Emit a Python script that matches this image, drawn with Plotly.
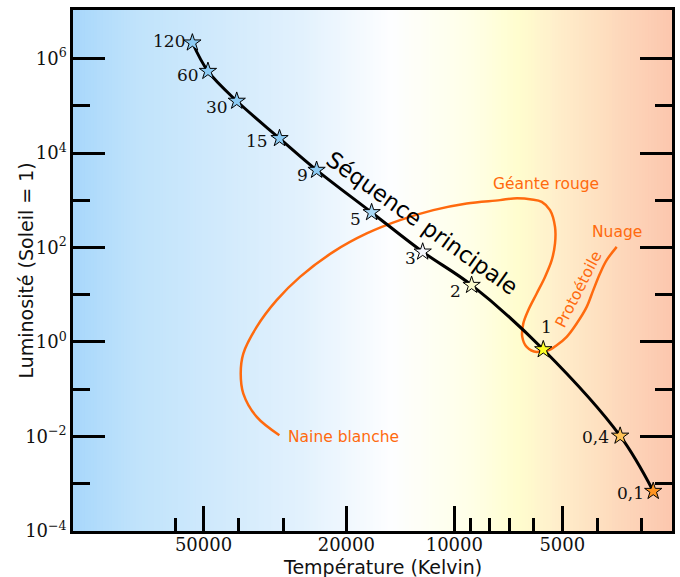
import plotly.graph_objects as go
import numpy as np

# ---------------- data ----------------
mass_labels = ["120", "60", "30", "15", "9", "5", "3", "2", "1", "0,4", "0,1"]
ms_temp = [53700, 48600, 40400, 30700, 24200, 17000, 12250, 8950, 5650, 3450, 2790]
ms_lum = [2.16e6, 5.4e5, 1.26e5, 2.04e4, 4340, 551, 80.7, 15.9, 0.69, 0.0102, 6.9e-4]
star_colors = ["#8ccbf4", "#8ccbf4", "#8ccbf4", "#8ccbf4", "#8ccbf4", "#a9d8f6",
               "#f4f6fc", "#fbfbcc", "#ffff26", "#ffc458", "#ff9422"]

proto_temp = [3527, 3762, 3926, 4099, 4276, 4560, 4861, 5183, 5470, 5650]
proto_lum = [103, 53.8, 28.1, 12.5, 5.51, 2.45, 1.28, 0.851, 0.667, 0.69]

evo_temp = [5650, 5893, 6285, 6465, 6423, 6222, 5893, 5588, 5352, 5240, 5240, 5411,
            5706, 6085, 6847, 7458, 9235, 11443, 14170, 17545, 21740, 26915, 31265,
            35540, 38730, 39380, 38730, 35540, 30730]
evo_lum = [0.69, 0.614, 0.784, 1.28, 2.45, 4.69, 10.6, 23.8, 53.8, 121.6, 273, 617,
           925, 1040, 1092, 1005, 855, 617, 379, 198, 80.7, 23.8, 7.65, 2.08, 0.568,
           0.214, 0.0807, 0.0258, 0.01055]

x_major = [50000, 20000, 10000, 5000]
x_minor = [60000, 40000, 30000, 9000, 8000, 7000, 6000, 4000, 3000]
y_major = [1e-4, 1e-2, 1, 1e2, 1e4, 1e6]
y_major_text = ["10<sup>−4</sup>", "10<sup>−2</sup>", "10<sup>0</sup>",
                "10<sup>2</sup>", "10<sup>4</sup>", "10<sup>6</sup>"]
y_minor = [1e-3, 1e-1, 1e1, 1e3, 1e5]

# region labels (text, T, L, angle)
region_labels = [
    ("Géante rouge", 5535, 2193, 0),
    ("Nuage", 3510, 211, 0),
    ("Protoétoile", 4493, 13.1, -63),
    ("Naine blanche", 20330, 0.00957, 0),
]

# background gradient stops (fraction of plot width, colour)
bg_stops = [0.0, 0.107, 0.38, 0.53, 0.66, 0.745, 0.80, 1.0]
bg_cols = [(168, 215, 251), (192, 227, 251), (226, 241, 253), (253, 254, 255),
           (255, 255, 232), (255, 253, 206), (255, 240, 204), (252, 198, 174)]

ORANGE = "#ff6a0e"
SERIF = "DejaVu Serif"
SANS = "DejaVu Sans"

fig = go.Figure()

# background strips
N = 200
cols = np.array(bg_cols, dtype=float)
shapes = []
for i in range(N):
    f = (i + 0.5) / N
    c = [np.interp(f, bg_stops, cols[:, k]) for k in range(3)]
    shapes.append(dict(type="rect", xref="paper", yref="paper",
                       x0=i / N, x1=(i + 1.6) / N, y0=0, y1=1,
                       fillcolor="rgb(%d,%d,%d)" % tuple(int(round(v)) for v in c),
                       line=dict(width=0), layer="below"))

fig.add_trace(go.Scatter(x=proto_temp, y=proto_lum, mode="lines",
                         line=dict(color=ORANGE, width=2.5, shape="spline"),
                         hoverinfo="skip", showlegend=False))
fig.add_trace(go.Scatter(x=evo_temp, y=evo_lum, mode="lines",
                         line=dict(color=ORANGE, width=2.5, shape="spline"),
                         hoverinfo="skip", showlegend=False))
fig.add_trace(go.Scatter(x=ms_temp, y=ms_lum, mode="lines",
                         line=dict(color="black", width=3, shape="spline"),
                         hoverinfo="skip", showlegend=False))
fig.add_trace(go.Scatter(x=ms_temp, y=ms_lum, mode="markers",
                         marker=dict(symbol="star", size=13, color=star_colors,
                                     line=dict(color="black", width=1)),
                         showlegend=False))

# star labels: (xanchor, xshift, yshift)
label_style = [("right", -5, 2), ("right", -7, -4), ("right", -7, -6), ("right", -10, -3),
               ("right", -7, -5), ("right", -9, -7), ("right", -5, -6), ("right", -9, -6),
               ("center", 3, 23), ("right", -9, -1), ("right", -7, -2)]
annotations = []
for lab, t, l, st in zip(mass_labels, ms_temp, ms_lum, label_style):
    annotations.append(dict(x=np.log10(t), y=np.log10(l), text=lab, showarrow=False,
                            xanchor=st[0], yanchor="middle", xshift=st[1], yshift=st[2],
                            font=dict(family=SERIF, size=17, color="#111")))

for txt, t, l, ang in region_labels:
    annotations.append(dict(x=np.log10(t), y=np.log10(l), text=txt, showarrow=False,
                            textangle=ang, font=dict(family=SANS, size=15.5, color=ORANGE)))

annotations.append(dict(x=np.log10(12263), y=np.log10(335), text="Séquence principale",
                        showarrow=False, textangle=35.5,
                        font=dict(family=SANS, size=22.5, color="black")))

# axis titles
annotations.append(dict(xref="paper", yref="paper", x=0.516, y=0.0, yshift=-23,
                        text="Température (Kelvin)", showarrow=False,
                        xanchor="center", yanchor="top",
                        font=dict(family=SANS, size=19, color="#111")))
annotations.append(dict(xref="paper", yref="paper", x=0.0, xshift=-48, y=0.5,
                        text="Luminosité (Soleil = 1)", showarrow=False, textangle=-90,
                        xanchor="center", yanchor="middle",
                        font=dict(family=SANS, size=19, color="#111")))

fig.update_layout(
    width=680, height=577,
    margin=dict(l=73, r=8, t=10, b=46, autoexpand=False),
    paper_bgcolor="white", plot_bgcolor="white",
    shapes=shapes, annotations=annotations,
    xaxis=dict(type="log", range=[5.0627, 3.3933], showgrid=False, zeroline=False,
               automargin=False, ticklabelstandoff=-4,
               tickmode="array", tickvals=x_major, ticktext=[str(v) for v in x_major],
               ticks="inside", ticklen=25, tickwidth=2.5, tickcolor="black",
               minor=dict(tickmode="array", tickvals=x_minor, ticks="inside",
                          ticklen=13, tickwidth=2.5, tickcolor="black", showgrid=False),
               showline=True, linecolor="black", linewidth=2.5, mirror=True,
               tickfont=dict(family=SERIF, size=18, color="#111")),
    yaxis=dict(type="log", range=[-4.004, 7.028], showgrid=False, zeroline=False,
               automargin=False,
               tickmode="array", tickvals=y_major, ticktext=y_major_text,
               ticks="inside", ticklen=32, tickwidth=2.5, tickcolor="black",
               minor=dict(tickmode="array", tickvals=y_minor, ticks="inside",
                          ticklen=17, tickwidth=2.5, tickcolor="black", showgrid=False),
               showline=True, linecolor="black", linewidth=2.5, mirror="ticks",
               tickfont=dict(family=SERIF, size=18, color="#111")),
)

fig.write_html("out.html")
